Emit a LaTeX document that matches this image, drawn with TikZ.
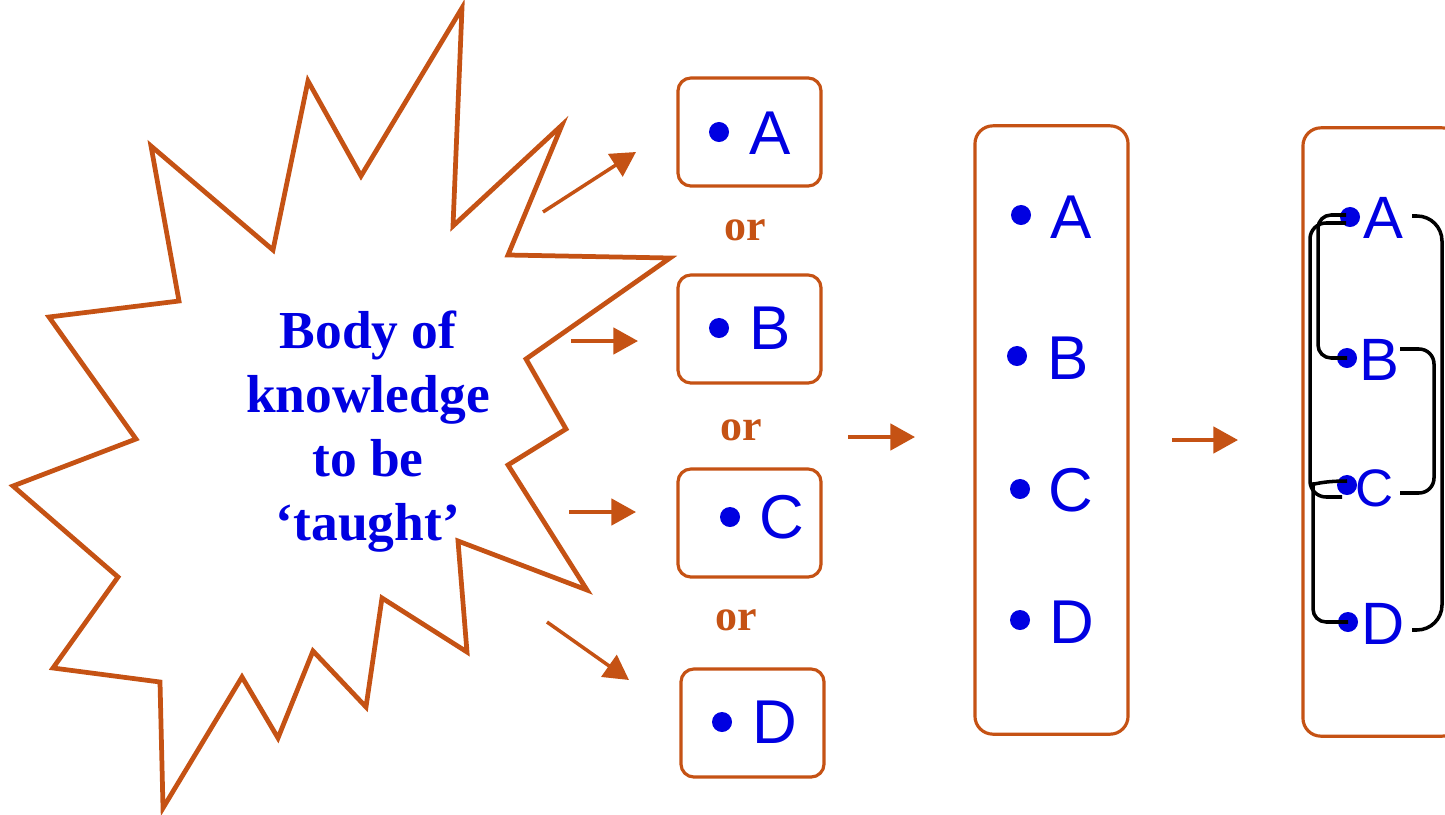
\documentclass[tikz,border=0pt]{standalone}
\usepackage{fontspec}
\setmainfont{Liberation Serif}
\setsansfont{Liberation Sans}
\usetikzlibrary{arrows.meta,positioning,calc}
\definecolor{rust}{RGB}{197,82,20}
\definecolor{ink}{RGB}{0,0,225}

\begin{document}
\begin{tikzpicture}[x=0.01cm,y=-0.01cm,
    box/.style={draw=rust,line width=0.9pt,rounded corners=0.13cm},
    item/.style={font=\sffamily\fontsize{17.6}{20}\selectfont,text=ink,inner sep=0pt},
    pt/.style={circle,fill=ink,inner sep=0pt,minimum size=0.2cm},
    orlab/.style={font=\bfseries\fontsize{12.5}{14}\selectfont,text=rust},
    arr/.style={-{Triangle[length=7pt,width=7.5pt]},rust,line width=1pt},
    link/.style={line width=1pt,rounded corners=0.13cm}
]
\clip (0,0) rectangle (1445,815);

% the star
\draw[rust,line width=1.35pt] (462,8) -- (453,226) -- (562,125) -- (508,255) -- (670,258)
  -- (526,359) -- (566,429) -- (508,465) -- (587,590) -- (458,541) -- (467,652)
  -- (382,598) -- (366,707) -- (313,651) -- (278,738) -- (242,677) -- (163,808)
  -- (160,682) -- (53,668) -- (118,577) -- (13,486) -- (136,439) -- (49,317)
  -- (179,301) -- (151,146) -- (273,250) -- (308,81) -- (361,176) -- cycle;
\node[font=\bfseries\fontsize{15.2}{18.2}\selectfont,text=ink,align=center] (body) at (368,432) {Body of\\knowledge\\to be\\`taught'};

% alternatives
\node[box,minimum width=1.43cm,minimum height=1.08cm] (boxA) at (749.5,132) {};
\node[pt] (pA) at (719,132) {}; \node[item] (iA) at (770,133) {A};
\node[orlab] (or1) at (745,230) {or};
\node[box,minimum width=1.43cm,minimum height=1.08cm] (boxB) at (749.5,329) {};
\node[pt] (pB) at (719,328) {}; \node[item] (iB) at (770,328) {B};
\node[orlab] (or2) at (741,430) {or};
\node[box,minimum width=1.43cm,minimum height=1.08cm] (boxC) at (749.5,523) {};
\node[pt] (pC) at (730,517) {}; \node[item] (iC) at (782,517) {C};
\node[orlab] (or3) at (736,620) {or};
\node[box,minimum width=1.43cm,minimum height=1.08cm] (boxD) at (752.5,723) {};
\node[pt] (pD) at (722,722) {}; \node[item] (iD) at (775,722) {D};

\coordinate (s1) at (543,212); \coordinate (t1) at (636,152);
\coordinate (s2) at (571,341); \coordinate (t2) at (638,341);
\coordinate (s3) at (569,512); \coordinate (t3) at (636,512);
\coordinate (s4) at (547,622); \coordinate (t4) at (629,680);
\draw[arr] (s1) -- (t1); \draw[arr] (s2) -- (t2);
\draw[arr] (s3) -- (t3); \draw[arr] (s4) -- (t4);

% all in one list
\node[box,rounded corners=0.18cm,minimum width=1.53cm,minimum height=6.08cm] (list) at (1051.5,430) {};
\node[pt] (mA) at (1021,215) {}; \node[item] (jA) at (1071,217) {A};
\node[pt] (mB) at (1017,356) {}; \node[item] (jB) at (1068,358) {B};
\node[pt] (mC) at (1020,489) {}; \node[item] (jC) at (1071,490) {C};
\node[pt] (mD) at (1020,620) {}; \node[item] (jD) at (1072,622) {D};

\coordinate (s5) at (848,437); \coordinate (t5) at (915,437);
\coordinate (s6) at (1172,440); \coordinate (t6) at (1238,440);
\draw[arr] (s5) -- (t5); \draw[arr] (s6) -- (t6);

% linked list
\node[box,rounded corners=0.18cm,minimum width=1.57cm,minimum height=6.08cm] (web) at (1381.5,432) {};
\node[pt] (qA) at (1350,217) {}; \node[item,font=\sffamily\fontsize{17}{20}\selectfont] (rA) at (1383,218) {A};
\node[pt] (qB) at (1347,358) {}; \node[item,font=\sffamily\fontsize{17}{20}\selectfont] (rB) at (1379,360) {B};
\node[pt] (qC) at (1347,485) {}; \node[item,font=\sffamily\fontsize{15}{18}\selectfont] (rC) at (1375,488) {C};
\node[pt] (qD) at (1348,622) {}; \node[item,font=\sffamily\fontsize{17}{20}\selectfont] (rD) at (1383,624) {D};

\draw[link] ([shift={(-4,-2)}]qA.center) -- ++(-28,0) |- (qB.center);
\draw[link,rounded corners=0.16cm] ([shift={(-4,6)}]qA.center) -- ++(-36,0) |- ([shift={(-5,12)}]qC.center);
\draw[link] ([shift={(0,-4)}]qC.center) .. controls +(-26,0) and +(0,-12) .. ++(-34,16) |- (qD.center);
\draw[link,rounded corners=0.25cm] ([shift={(29,-2)}]rA.center) -- ++(30,0) |- ([shift={(29,6)}]rD.center);
\draw[link,rounded corners=0.15cm] ([shift={(21,-11)}]rB.center) -- ++(34,0) |- ([shift={(25,5)}]rC.center);
\end{tikzpicture}
\end{document}
